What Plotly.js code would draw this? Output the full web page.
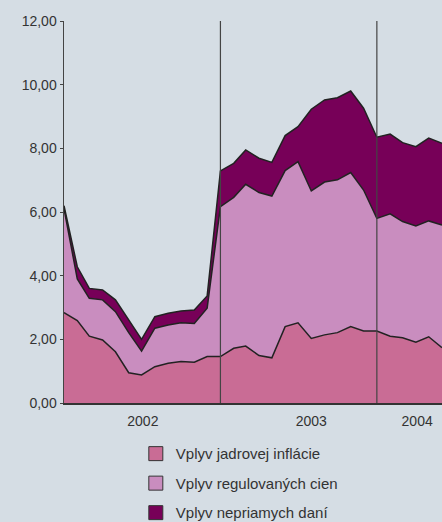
<!DOCTYPE html>
<html>
<head>
<meta charset="utf-8">
<script src="https://cdn.plot.ly/plotly-3.0.1.min.js"></script>
<style>html,body{margin:0;padding:0;background:#D5DDE4;}#chart{width:442px;height:522px;}</style>
</head>
<body>
<div id="chart"></div>
<script>
const months = [
  '2002-01-01','2002-02-01','2002-03-01','2002-04-01','2002-05-01','2002-06-01',
  '2002-07-01','2002-08-01','2002-09-01','2002-10-01','2002-11-01','2002-12-01',
  '2003-01-01','2003-02-01','2003-03-01','2003-04-01','2003-05-01','2003-06-01',
  '2003-07-01','2003-08-01','2003-09-01','2003-10-01','2003-11-01','2003-12-01',
  '2004-01-01','2004-02-01','2004-03-01','2004-04-01','2004-05-01','2004-06-01'
];
const coreInflation = [
  2.84, 2.59, 2.10, 1.98, 1.61, 0.95, 0.88, 1.14, 1.25, 1.30, 1.28, 1.46,
  1.46, 1.72, 1.79, 1.49, 1.42, 2.40, 2.52, 2.03, 2.14, 2.21, 2.40, 2.26,
  2.26, 2.10, 2.05, 1.91, 2.08, 1.74
];
const regulatedPrices = [
  3.26, 1.31, 1.19, 1.26, 1.26, 1.26, 0.75, 1.21, 1.20, 1.22, 1.22, 1.52,
  4.71, 4.74, 5.08, 5.12, 5.08, 4.90, 5.06, 4.63, 4.80, 4.80, 4.84, 4.43,
  3.54, 3.84, 3.65, 3.65, 3.64, 3.85
];
const indirectTaxes = [
  0.10, 0.38, 0.31, 0.31, 0.37, 0.40, 0.37, 0.36, 0.37, 0.37, 0.42, 0.38,
  1.12, 1.07, 1.08, 1.08, 1.06, 1.10, 1.10, 2.57, 2.58, 2.58, 2.56, 2.57,
  2.55, 2.51, 2.48, 2.49, 2.60, 2.57
];
const seriesNames = ['Vplyv jadrovej inflácie', 'Vplyv regulovaných cien', 'Vplyv nepriamych daní'];
const seriesColors = ['#C96C95', '#C98DBF', '#770058'];
const xTickVals = ['2002-07-04', '2003-08-01', '2004-04-04'];
const xTickText = ['2002', '2003', '2004'];
const yearBreaks = ['2003-01-01', '2004-01-01'];

const seriesValues = [coreInflation, regulatedPrices, indirectTaxes];
const traces = [];
seriesValues.forEach((vals, i) => {
  traces.push({
    type: 'scatter', mode: 'lines', x: months, y: vals,
    stackgroup: 'one', fillcolor: seriesColors[i],
    line: {color: '#222', width: 1.5},
    name: seriesNames[i], showlegend: false, hoverinfo: 'skip'
  });
});
seriesNames.forEach((nm, i) => {
  traces.push({
    type: 'scatter', mode: 'markers', x: [null], y: [null],
    name: nm, legendgroup: 'g' + i, showlegend: true,
    marker: {symbol: 'square', size: 14, color: seriesColors[i], line: {color: '#333', width: 1}}
  });
});

const shapes = yearBreaks.map(d => ({
  type: 'line', xref: 'x', yref: 'y', x0: d, x1: d, y0: 0, y1: 12,
  line: {color: '#444', width: 1.2}, layer: 'above'
}));

const layout = {
  width: 442, height: 522,
  paper_bgcolor: '#D5DDE4', plot_bgcolor: '#D5DDE4',
  margin: {l: 64, r: 0, t: 21, b: 119, autoexpand: false},
  separators: ', ',
  font: {family: 'Liberation Sans, Arial, sans-serif', size: 14, color: '#333'},
  xaxis: {
    type: 'date', range: ['2002-01-01', '2004-06-01'],
    showgrid: false, zeroline: false,
    showline: true, linecolor: '#333', linewidth: 2,
    tickmode: 'array', tickvals: xTickVals, ticktext: xTickText,
    ticks: '', ticklabelstandoff: 4, tickfont: {size: 14, color: '#333'}
  },
  yaxis: {
    range: [0, 12], dtick: 2, tickformat: '.2f',
    showgrid: false, zeroline: false,
    showline: true, linecolor: '#444', linewidth: 1.5,
    ticks: 'outside', ticklen: 3, tickcolor: '#444', tickwidth: 1,
    tickfont: {size: 14, color: '#333'}
  },
  shapes: shapes,
  showlegend: true,
  legend: {
    x: 0.19, xanchor: 'left', y: -0.09, yanchor: 'top',
    bgcolor: 'rgba(0,0,0,0)', font: {size: 15, color: '#333'},
    traceorder: 'grouped', tracegroupgap: 7, itemwidth: 30
  }
};

Plotly.newPlot('chart', traces, layout, {displayModeBar: false, staticPlot: true});
</script>
</body>
</html>
